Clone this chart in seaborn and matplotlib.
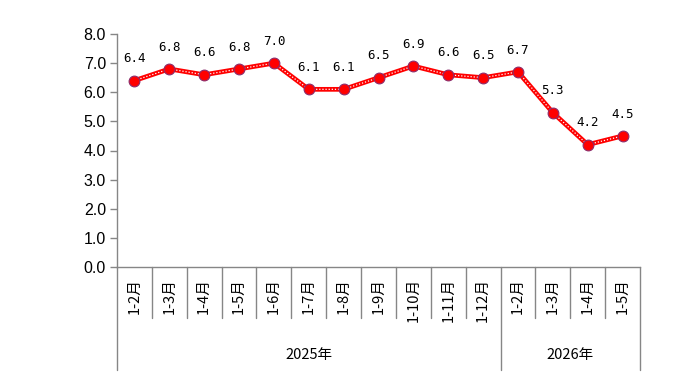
import matplotlib
matplotlib.use("Agg")
import matplotlib.pyplot as plt
import seaborn as sns
import pandas as pd
import numpy as np

categories = ["1-2月", "1-3月", "1-4月", "1-5月", "1-6月", "1-7月", "1-8月", "1-9月",
              "1-10月", "1-11月", "1-12月", "1-2月", "1-3月", "1-4月", "1-5月"]
values = [6.4, 6.8, 6.6, 6.8, 7.0, 6.1, 6.1, 6.5, 6.9, 6.6, 6.5, 6.7, 5.3, 4.2, 4.5]
groups = ["2025年", "2026年"]
group_sizes = [11, 4]
yticks = [0.0, 1.0, 2.0, 3.0, 4.0, 5.0, 6.0, 7.0, 8.0]

sns.set_theme(style="white")
plt.rcParams['font.family'] = ['Noto Sans CJK SC', 'DejaVu Sans']

df = pd.DataFrame({"idx": np.arange(len(values)), "value": values})

fig = plt.figure(figsize=(6.92, 3.82), dpi=100)
ax = fig.add_axes([117/692, 1 - 267/382, (640 - 117)/692, (267 - 34)/382])

sns.lineplot(data=df, x="idx", y="value", ax=ax, color="#FF0000", linewidth=3.4, zorder=2)
sns.lineplot(data=df, x="idx", y="value", ax=ax, color="white", linewidth=0.9,
             linestyle=(0, (1, 1.5)), zorder=3)
sns.scatterplot(data=df, x="idx", y="value", ax=ax, color="#FF0000", s=60,
                edgecolor="#8B2C6B", linewidth=0.8, zorder=4)

for i, v in enumerate(values):
    ax.annotate(f"{v:.1f}", (i, v), xytext=(0, 11), textcoords="offset points",
                ha="center", va="bottom", fontsize=9, family="DejaVu Sans Mono", color="black")

ax.set_xlim(-0.5, len(values) - 0.5)
ax.set_ylim(0, 8)
ax.set_yticks(yticks)
ax.set_yticklabels([f"{t:.1f}" for t in yticks], fontsize=11.5, family="Liberation Sans", color="black")
ax.set_xticks(range(len(categories)))
ax.set_xticklabels(categories, rotation=90, va="top", ha="center", fontsize=10.5, color="black")
ax.tick_params(axis="x", length=0, pad=8)
ax.tick_params(axis="y", length=5, width=1, color="#868686", left=True, pad=3)
ax.set_xlabel("")
ax.set_ylabel("")

for s in ["top", "right"]:
    ax.spines[s].set_visible(False)
for s in ["left", "bottom"]:
    ax.spines[s].set_color("#868686")
    ax.spines[s].set_linewidth(1)

# category separators below the axis
trans = ax.get_xaxis_transform()
h_ax = (267 - 34) / 382 * 3.82 * 100  # axes height px
short = -51 / h_ax
long = -103 / h_ax
bounds = [0]
for g in group_sizes:
    bounds.append(bounds[-1] + g)
for b in range(len(categories) + 1):
    x = b - 0.5
    y0 = long if b in bounds else short
    ax.plot([x, x], [0, y0], transform=trans, color="#868686", lw=1, clip_on=False)

start = 0
for g, n in zip(groups, group_sizes):
    cx = start + n / 2 - 0.5
    ax.text(cx, -88 / h_ax, g, transform=trans, ha="center", va="center", fontsize=10.5, color="black")
    start += n

fig.savefig("out.png", dpi=100)
